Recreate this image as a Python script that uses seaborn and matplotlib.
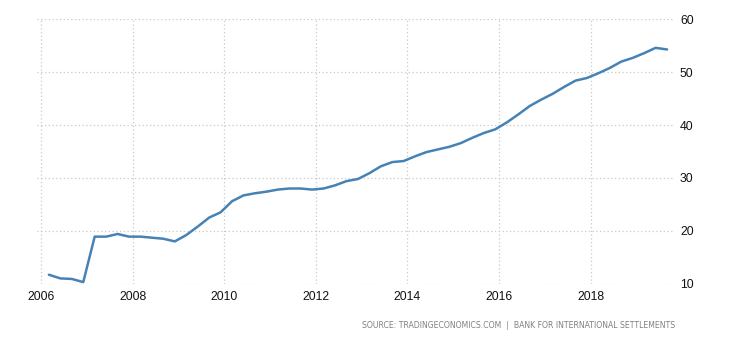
import matplotlib
matplotlib.use("Agg")
import matplotlib.pyplot as plt
import seaborn as sns
import pandas as pd
import numpy as np

# Quarterly observations (decimal year) and values
start_year = 2006.17
values = [
    11.7, 11.0, 10.9, 10.3,
    18.9, 18.9, 19.4, 18.9,
    18.9, 18.7, 18.5, 18.0,
    19.2, 20.8, 22.5, 23.5,
    25.6, 26.7, 27.1, 27.4,
    27.8, 28.0, 28.0, 27.8,
    28.0, 28.6, 29.4, 29.8,
    30.9, 32.2, 33.0, 33.2,
    34.1, 34.9, 35.4, 35.9,
    36.6, 37.6, 38.5, 39.2,
    40.5, 42.0, 43.6, 44.8,
    45.9, 47.2, 48.4, 48.9,
    49.8, 50.8, 52.0, 52.7,
    53.6, 54.6, 54.3,
]
years = [start_year + 0.25 * i for i in range(len(values))]
x_ticks = [2006, 2008, 2010, 2012, 2014, 2016, 2018]
y_ticks = [10, 20, 30, 40, 50, 60]
source_text = "SOURCE: TRADINGECONOMICS.COM  |  BANK FOR INTERNATIONAL SETTLEMENTS"

df = pd.DataFrame({"year": years, "value": values})

sns.set_theme(style="white")
plt.rcParams['font.family'] = ['Liberation Sans', 'DejaVu Sans']

fig = plt.figure(figsize=(7.3, 3.4), dpi=100)
ax = fig.add_axes([37/730, 1-283.7/340, (673-37)/730, (283.7-19.3)/340])

sns.lineplot(data=df, x="year", y="value", ax=ax, color="#4682B4", linewidth=1.8,
             solid_joinstyle="round", solid_capstyle="round")

ax.set_xlim(2005.91, 2019.80)
ax.set_ylim(10, 60)
ax.set_xticks(x_ticks)
ax.set_xticklabels([str(t) for t in x_ticks])
ax.set_yticks(y_ticks)
ax.yaxis.tick_right()
ax.set_xlabel("")
ax.set_ylabel("")
for s in ax.spines.values():
    s.set_visible(False)
ax.grid(True, color="#c8c8c8", linestyle=(0, (1, 2)), linewidth=0.9)
ax.set_axisbelow(True)
ax.tick_params(axis="both", length=0, labelsize=8.7, labelcolor="#111111")
ax.tick_params(axis="x", pad=5)
ax.tick_params(axis="y", pad=5)

fig.text(675/730, 1-325/340, source_text, ha="right", va="center",
         fontsize=5.6, color="#808080", family=["DejaVu Sans"])

fig.savefig("out.png", dpi=100)
